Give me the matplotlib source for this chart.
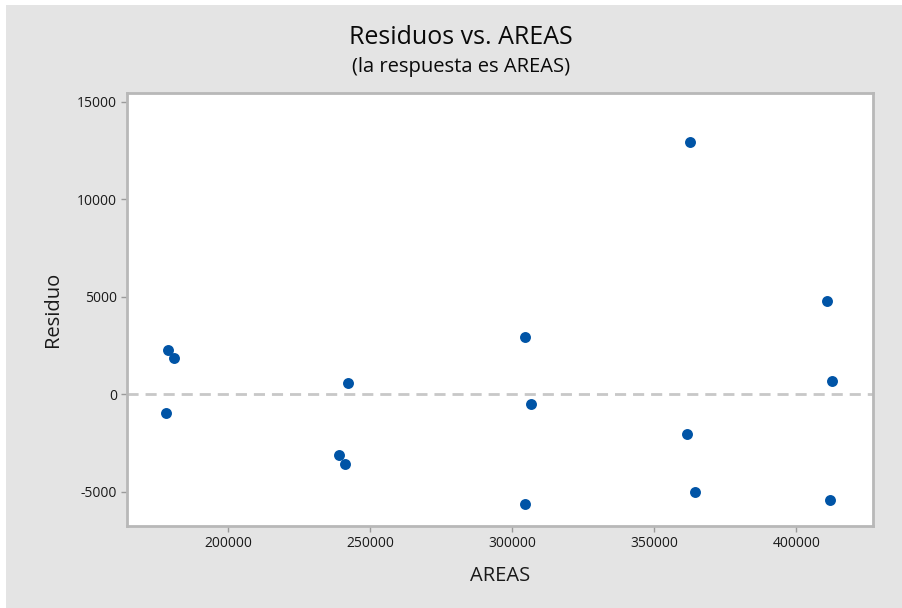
import matplotlib
matplotlib.use("Agg")
import matplotlib.pyplot as plt
from matplotlib.patches import Rectangle

areas = [178760, 180874, 178197, 242057, 238781, 241106, 304297, 306516,
         304297, 362522, 361465, 364178, 410884, 412434, 411941]
residuos = [2292, 1862, -959, 600, -3128, -3554, 2938, -477,
            -5615, 12959, -2015, -5010, 4785, 667, -5400]
xticks = [200000, 250000, 300000, 350000, 400000]
yticks = [-5000, 0, 5000, 10000, 15000]

plt.rcParams['font.family'] = ['Open Sans', 'DejaVu Sans']

fig = plt.figure(figsize=(9.02, 6.08), dpi=100)
fig.patch.set_facecolor('#e4e4e4')
# white outer rim at top/left
fig.patches.append(Rectangle((0, 1 - 5/608), 1, 5/608, transform=fig.transFigure,
                             facecolor='white', edgecolor='none', zorder=0))
fig.patches.append(Rectangle((0, 0), 6/902, 1, transform=fig.transFigure,
                             facecolor='white', edgecolor='none', zorder=0))

ax = fig.add_axes([127/902, 1 - 526/608, (873 - 127)/902, (526 - 93)/608])
ax.set_facecolor('white')
ax.scatter(areas, residuos, s=62, color='#0054a6', zorder=3, linewidths=0)
ax.axhline(0, color='#c8c8c8', linestyle=(0, (4, 2.5)), linewidth=2, zorder=2)

ax.set_xlim(164300, 427000)
ax.set_ylim(-6750, 15450)
ax.set_xticks(xticks)
ax.set_yticks(yticks)
ax.set_xticklabels([str(v) for v in xticks])
ax.set_yticklabels([str(v) for v in yticks])
ax.tick_params(direction='out', length=4, width=1, color='#9a9a9a',
               labelsize=10, labelcolor='#1a1a1a', pad=3)
for sp in ax.spines.values():
    sp.set_color('#b8b8b8')
    sp.set_linewidth(2)

ax.set_xlabel('AREAS', fontsize=14.5, color='#1a1a1a', labelpad=11)
ax.set_ylabel('Residuo', fontsize=14.5, color='#1a1a1a', labelpad=10)

fig.text(461/902, 1 - 38/608, 'Residuos vs. AREAS', ha='center', va='center',
         fontsize=18, color='#0a0a0a')
fig.text(461/902, 1 - 67/608, '(la respuesta es AREAS)', ha='center', va='center',
         fontsize=14.5, color='#0a0a0a')

fig.savefig('out.png', dpi=100, facecolor=fig.get_facecolor())
